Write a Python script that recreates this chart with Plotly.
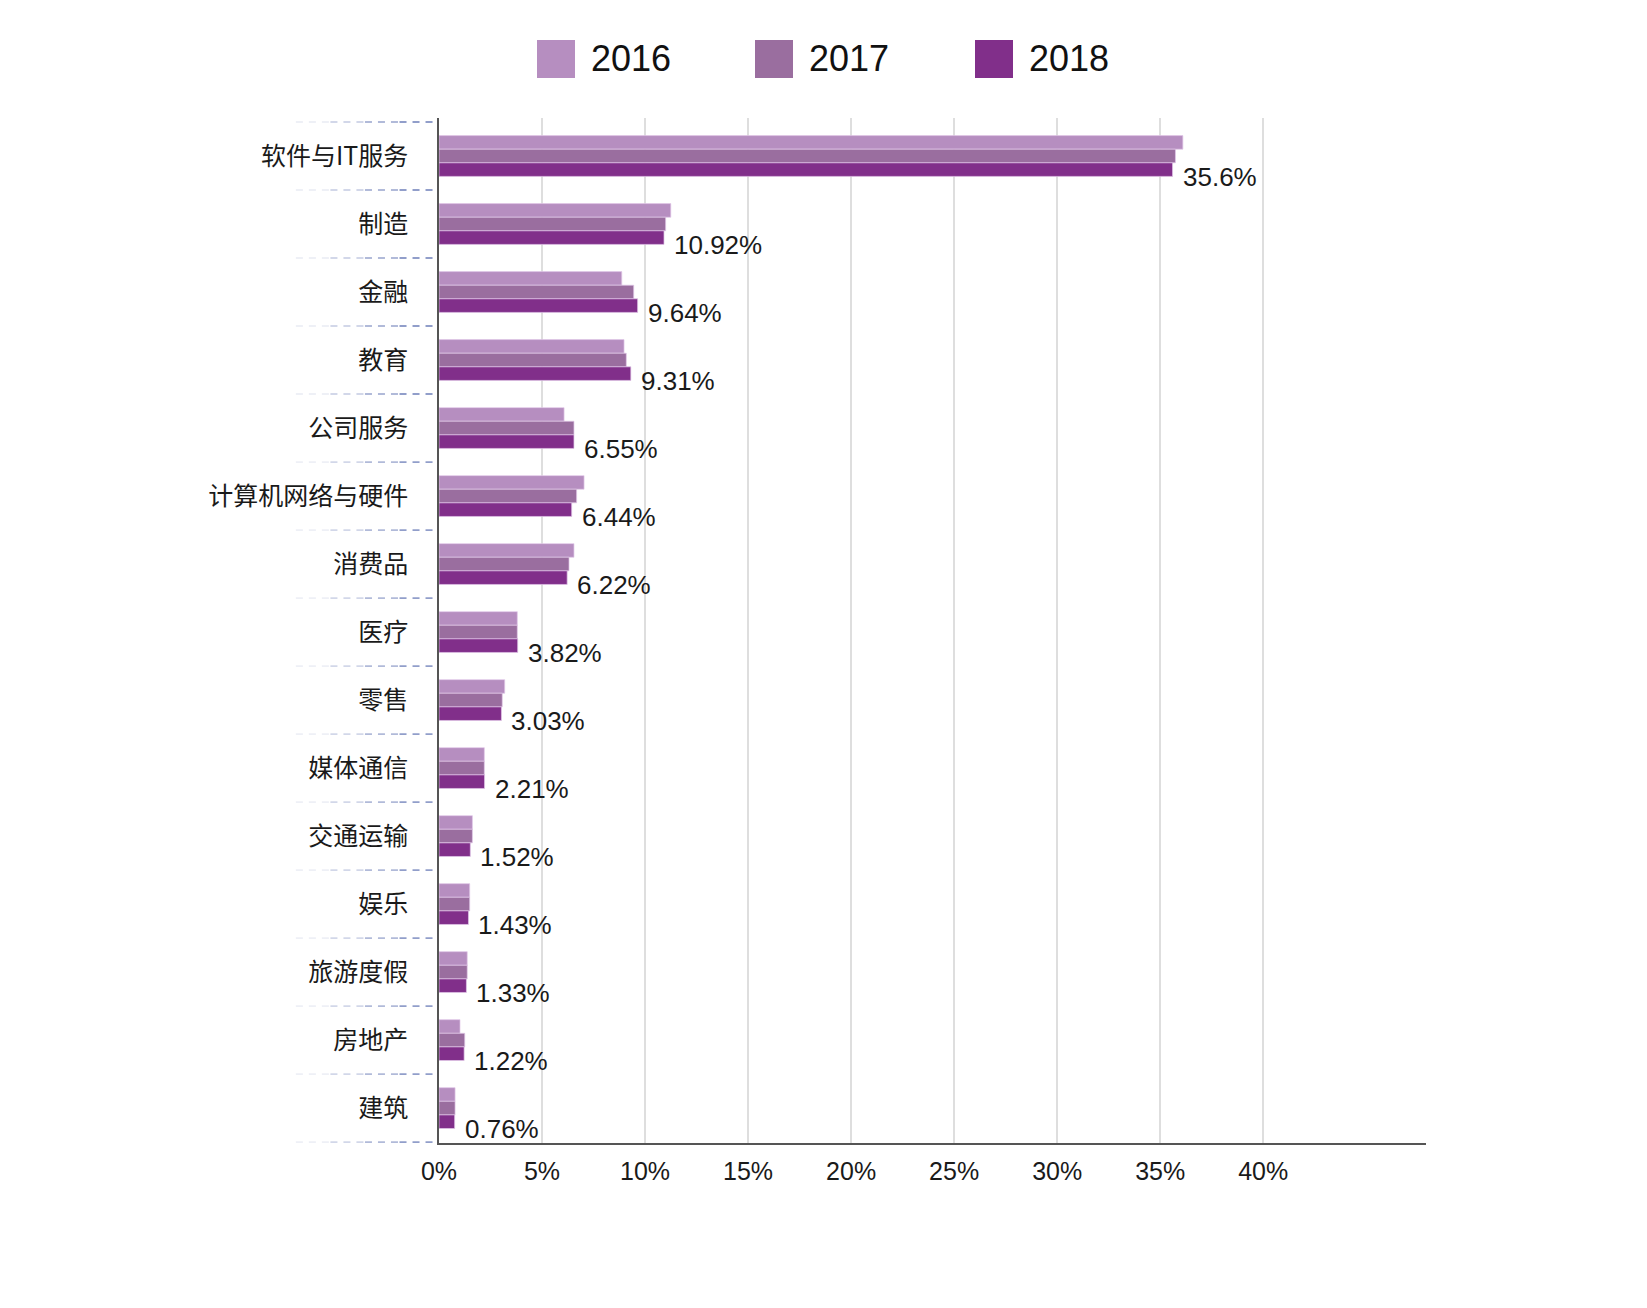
import plotly.graph_objects as go

categories = ["软件与IT服务", "制造", "金融", "教育", "公司服务", "计算机网络与硬件", "消费品",
              "医疗", "零售", "媒体通信", "交通运输", "娱乐", "旅游度假", "房地产", "建筑"]
years = ["2016", "2017", "2018"]
v2016 = [36.1, 11.25, 8.87, 8.98, 6.07, 7.04, 6.55, 3.8, 3.19, 2.2, 1.62, 1.49, 1.37, 1.02, 0.78]
v2017 = [35.74, 11.0, 9.45, 9.09, 6.55, 6.68, 6.31, 3.8, 3.07, 2.2, 1.62, 1.49, 1.37, 1.25, 0.78]
v2018 = [35.6, 10.92, 9.64, 9.31, 6.55, 6.44, 6.22, 3.82, 3.03, 2.21, 1.52, 1.43, 1.33, 1.22, 0.76]
xticks = [0, 5, 10, 15, 20, 25, 30, 35, 40]
colors = ["#B68EC0", "#9A6E9F", "#812F8A"]

W, H = 1647, 1308
OFFX, OFFY = 8, 11  # page body margin compensation
L, T = 439 - OFFX, 121 - OFFY
PW, PH = 987, 1025
R, B = W - L - PW, H - T - PH

FONT = "Liberation Sans, Helvetica, Arial, Noto Sans CJK SC, sans-serif"

fig = go.Figure()
for yr, vals, col in zip(years, [v2016, v2017, v2018], colors):
    fig.add_trace(go.Bar(
        y=categories, x=vals, orientation="h", name=yr,
        marker=dict(color=col, line=dict(color="rgba(225,200,232,0.7)", width=1)),
        showlegend=False, hoverinfo="x+y+name",
    ))

annotations = []
for c, v in zip(categories, v2018):
    annotations.append(dict(
        x=v, y=c, xref="x", yref="y", text=f"{v:g}%", showarrow=False,
        xanchor="left", yanchor="middle", xshift=8, yshift=-21,
        font=dict(family=FONT, size=26, color="#1a1a1a"),
    ))

# manual legend (large square swatches); pixel coords in reference page space
def px_x(px):
    return (px - 8 - L) / PW

def px_y(py):
    return (T + PH - (py - 8)) / PH

shapes = []
leg_x0 = [537, 755, 975]
for yr, col, x0 in zip(years, colors, leg_x0):
    shapes.append(dict(type="rect", xref="paper", yref="paper",
                       x0=px_x(x0), x1=px_x(x0 + 38), y0=px_y(78), y1=px_y(40),
                       fillcolor=col, line=dict(width=0)))
    annotations.append(dict(x=px_x(x0 + 52), y=px_y(59), xref="paper", yref="paper",
                            text=yr, showarrow=False, xanchor="left", yanchor="middle",
                            font=dict(family="Liberation Sans, Arial, sans-serif",
                                      size=36, color="#111111")))

# dashed category separators on the left, fading out
segs = [(-0.145, -0.11, 0.15), (-0.11, -0.075, 0.4), (-0.075, -0.04, 0.7), (-0.04, 0.0, 1.0)]
for i in range(len(categories) + 1):
    yb = i - 0.5
    for a, b, op in segs:
        shapes.append(dict(type="line", xref="paper", yref="y", x0=a, x1=b, y0=yb, y1=yb,
                           line=dict(color="rgb(145,158,202)", width=1.8, dash="7px,6px"),
                           opacity=op, layer="below"))

fig.update_layout(
    width=W, height=H,
    margin=dict(l=L, r=R, t=T, b=B, pad=0),
    paper_bgcolor="white", plot_bgcolor="white",
    barmode="group", bargap=0.4, bargroupgap=0,
    font=dict(family=FONT, size=24, color="#1a1a1a"),
    annotations=annotations, shapes=shapes,
    showlegend=False,
)
fig.update_xaxes(
    range=[0, 47.9], tickvals=xticks, ticktext=[f"{t}%" for t in xticks],
    showgrid=True, gridcolor="#DEDEDE", gridwidth=2, zeroline=False,
    showline=True, linecolor="#555555", linewidth=2,
    ticks="", ticklabelstandoff=5, tickfont=dict(size=25, color="#1a1a1a"),
)
fig.update_yaxes(
    categoryorder="array", categoryarray=categories, autorange="reversed",
    showgrid=False, zeroline=False, showline=True, linecolor="#555555", linewidth=1.5,
    ticks="", ticklabelstandoff=24, tickfont=dict(size=25, color="#1a1a1a",
                                                  family="Noto Sans CJK SC, Liberation Sans, sans-serif"),
)

fig.write_html("out.html")
